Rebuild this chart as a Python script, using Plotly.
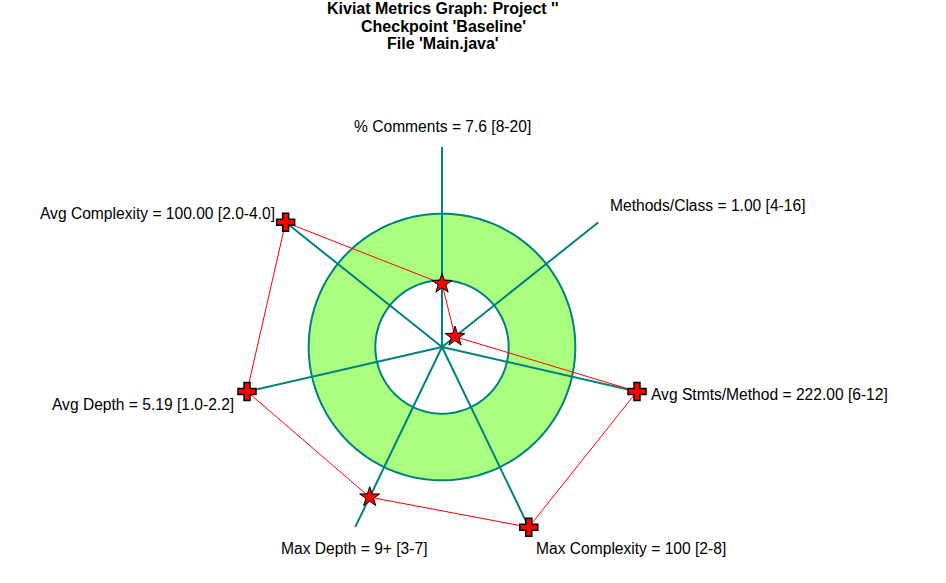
import plotly.graph_objects as go

W, H = 946, 583

metrics = ["% Comments", "Methods/Class", "Avg Stmts/Method", "Max Complexity",
           "Max Depth", "Avg Depth", "Avg Complexity"]
value_text = ["7.6", "1.00", "222.00", "100", "9+", "5.19", "100.00"]
values = [7.6, 1.00, 222.00, 100, 9, 5.19, 100.00]
range_min = [8, 4, 6, 2, 3, 1.0, 2.0]
range_max = [20, 16, 12, 8, 7, 2.2, 4.0]
range_text = ["8-20", "4-16", "6-12", "2-8", "3-7", "1.0-2.2", "2.0-4.0"]
title_lines = ["Kiviat Metrics Graph: Project ''", "Checkpoint 'Baseline'", "File 'Main.java'"]

n = len(metrics)
thetas = [i * 360.0 / n for i in range(n)]


def scale(v, lo, hi):
    if v < lo:
        return v / lo / 3.0
    r = 1 / 3.0 + (v - lo) / (hi - lo) / 3.0
    return min(r, 1.0)


radii = [scale(v, lo, hi) for v, lo, hi in zip(values, range_min, range_max)]
clipped = [r >= 1.0 for r in radii]

TEAL = "#008080"
GREEN = "#AAFF80"
RED = "#FF0000"
FONT = "Liberation Sans, Arial"

fig = go.Figure()
circ_t = [i for i in range(0, 361, 2)]
fig.add_trace(go.Scatterpolar(r=[2 / 3] * len(circ_t), theta=circ_t, mode="lines",
                              fill="toself", fillcolor=GREEN,
                              line=dict(color=TEAL, width=2), hoverinfo="skip"))
fig.add_trace(go.Scatterpolar(r=[1 / 3] * len(circ_t), theta=circ_t, mode="lines",
                              fill="toself", fillcolor="white",
                              line=dict(color=TEAL, width=2), hoverinfo="skip"))
# spokes
sr, st = [], []
for t in thetas:
    sr += [0, 1, None]
    st += [t, t, None]
fig.add_trace(go.Scatterpolar(r=sr, theta=st, mode="lines",
                              line=dict(color=TEAL, width=2), hoverinfo="skip"))
# polygon
fig.add_trace(go.Scatterpolar(r=radii + [radii[0]], theta=thetas + [thetas[0]],
                              mode="lines", line=dict(color=RED, width=1)))
# markers
fig.add_trace(go.Scatterpolar(
    r=[r for r, c in zip(radii, clipped) if c],
    theta=[t for t, c in zip(thetas, clipped) if c],
    mode="markers",
    marker=dict(symbol="cross", size=15, color=RED, line=dict(color="black", width=1.5))))
fig.add_trace(go.Scatterpolar(
    r=[r for r, c in zip(radii, clipped) if not c],
    theta=[t for t, c in zip(thetas, clipped) if not c],
    mode="markers",
    marker=dict(symbol="star", size=15, color=RED, line=dict(color="black", width=1))))

cx, cy, R = 442, 347, 200


def px(x):
    return x / W


def py(y):
    return 1 - y / H


# label positions (pixel): x, y, anchor
label_pos = [
    (442, 126, "center"),
    (608, 205, "left"),
    (649, 394, "left"),
    (534, 548, "left"),
    (430, 548, "right"),
    (236, 404, "right"),
    (277, 214, "right"),
]
annotations = []
for m, vt, rt, (x, y, a) in zip(metrics, value_text, range_text, label_pos):
    annotations.append(dict(text=f"{m} = {vt} [{rt}]", x=px(x), y=py(y),
                            xref="paper", yref="paper", xanchor=a, yanchor="middle",
                            showarrow=False,
                            font=dict(family=FONT, size=15.6, color="black")))
for i, line in enumerate(title_lines):
    annotations.append(dict(
        text=f"<b>{line}</b>", x=px(443), y=py(8 + 18 * i), xref="paper", yref="paper",
        xanchor="center", yanchor="middle", showarrow=False,
        font=dict(family=FONT, size=16, color="black")))

fig.update_layout(
    width=W, height=H,
    margin=dict(l=0, r=0, t=0, b=0),
    paper_bgcolor="white", plot_bgcolor="white",
    showlegend=False,
    annotations=annotations,
    polar=dict(
        domain=dict(x=[px(cx - R), px(cx + R)], y=[py(cy + R), py(cy - R)]),
        bgcolor="rgba(0,0,0,0)",
        radialaxis=dict(range=[0, 1], visible=False, showgrid=False),
        angularaxis=dict(rotation=90, direction="clockwise", visible=False,
                         showgrid=False, showline=False, ticks=""),
    ),
)
fig.write_html("out.html", config={"displayModeBar": False},
               post_script="document.body.style.margin='0';")
